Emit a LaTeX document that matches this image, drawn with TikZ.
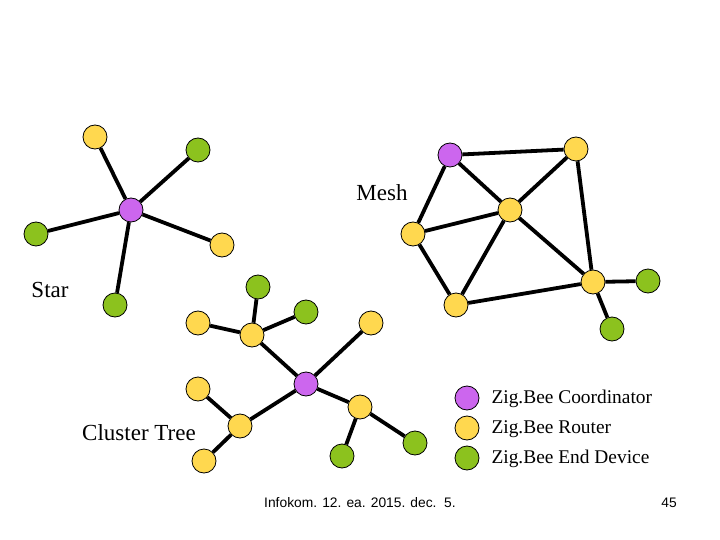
\documentclass[tikz,border=0pt]{standalone}
\usepackage{fontspec}
\setmainfont{Liberation Serif}
\newfontfamily\footfont{Liberation Sans}
\definecolor{cpur}{HTML}{CC66EE}
\definecolor{cyel}{HTML}{FFD84F}
\definecolor{cgrn}{HTML}{8CC21E}
\begin{document}
\begin{tikzpicture}[x=1pt,y=-1pt,
  nd/.style={circle,draw=black,line width=0.8pt,minimum size=24pt,inner sep=0pt},
  co/.style={nd,fill=cpur},
  ro/.style={nd,fill=cyel},
  ed/.style={nd,fill=cgrn},
  ln/.style={line width=3.8pt,draw=black},
  lbl/.style={font=\fontsize{23}{26}\selectfont},
  leg/.style={anchor=west,font=\fontsize{19.4}{22}\selectfont},
  ft/.style={font=\footfont\fontsize{13.8}{16}\selectfont}]
\useasboundingbox (0,0) rectangle (720,540);
% Star
\node[co] (s0) at (131,210) {};
\node[ro] (s1) at (95,137) {};
\node[ed] (s2) at (198,150) {};
\node[ed] (s3) at (36,234) {};
\node[ro] (s4) at (222,245) {};
\node[ed] (s5) at (115,305) {};
\foreach \i in {1,...,5} \draw[ln] (s0) -- (s\i);
% Mesh
\node[co] (m1) at (450,155) {};
\node[ro] (m2) at (576,149) {};
\node[ro] (m3) at (510,210) {};
\node[ro] (m4) at (413,234) {};
\node[ro] (m5) at (593,282) {};
\node[ed] (m6) at (648,281) {};
\node[ro] (m7) at (456,305) {};
\node[ed] (m8) at (612,329) {};
\foreach \a/\b in {m1/m2,m1/m3,m1/m4,m2/m3,m2/m5,m4/m3,m4/m7,m3/m7,m3/m5,m7/m5,m5/m6,m5/m8}
  \draw[ln] (\a) -- (\b);
% Cluster tree
\node[co] (c0) at (306,384) {};
\node[ro] (c1) at (252,335) {};
\node[ed] (c2) at (258,287) {};
\node[ed] (c3) at (306,312) {};
\node[ro] (c4) at (198,323) {};
\node[ro] (c5) at (371,323) {};
\node[ro] (c6) at (198,389) {};
\node[ro] (c7) at (240,426) {};
\node[ro] (c8) at (204,461) {};
\node[ro] (c9) at (360,407) {};
\node[ed] (c10) at (342,456) {};
\node[ed] (c11) at (415,443) {};
\foreach \a/\b in {c0/c1,c1/c2,c1/c3,c1/c4,c0/c5,c0/c7,c0/c9,c7/c6,c7/c8,c9/c10,c9/c11}
  \draw[ln] (\a) -- (\b);
% Labels
\node[lbl] (tm) at (382,193) {Mesh};
\node[lbl] (ts) at (50,290) {Star};
\node[lbl] (tc) at (139,433) {Cluster Tree};
% Legend
\node[co] (l1) at (467,398) {};
\node[ro] (l2) at (467,428) {};
\node[ed] (l3) at (467,458) {};
\node[leg] (t1) at (488,399) {Zig.Bee Coordinator};
\node[leg] (t2) at (488,429) {Zig.Bee Router};
\node[leg] (t3) at (488,459) {Zig.Bee End Device};
% Footer
\node[ft] (f1) at (360,503) {Infokom. 12. ea. 2015. dec.\ \ 5.};
\node[ft] (f2) at (669,503) {45};
\end{tikzpicture}
\end{document}
